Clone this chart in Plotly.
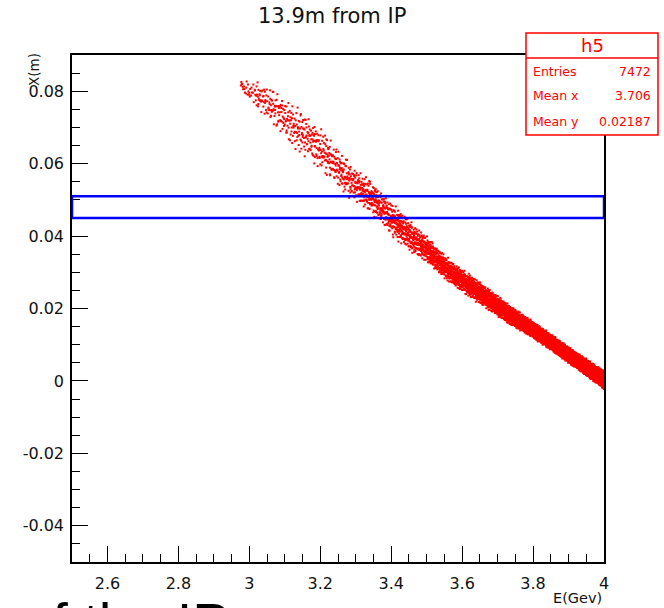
import numpy as np
import plotly.graph_objects as go

# ---------------- data ----------------
title_text = "13.9m from IP"
x_title = "E(Gev)"
y_title = "X(m)"

x_range = [2.5, 4.0]
y_range = [-0.05, 0.09]
x_tick_vals = [2.6, 2.8, 3.0, 3.2, 3.4, 3.6, 3.8, 4.0]
x_tick_text = ["2.6", "2.8", "3", "3.2", "3.4", "3.6", "3.8", "4"]
y_tick_vals = [-0.04, -0.02, 0.0, 0.02, 0.04, 0.06, 0.08]
y_tick_text = ["-0.04", "-0.02", "0", "0.02", "0.04", "0.06", "0.08"]

# ridge of the scatter band (centre and half thickness along X)
band_x = [2.975, 3.00, 3.06, 3.11, 3.17, 3.23, 3.28, 3.34, 3.40, 3.45,
          3.50, 3.57, 3.65, 3.73, 3.78, 3.83, 3.92, 4.00]
band_center = [0.0818, 0.0802, 0.0764, 0.0714, 0.0670, 0.0610, 0.0556, 0.0510, 0.0450, 0.0402,
               0.0363, 0.0298, 0.0243, 0.0185, 0.0154, 0.0121, 0.0058, 0.0003]
band_halfwidth = [0.0012, 0.0028, 0.0044, 0.0052, 0.0054, 0.0050, 0.0042, 0.0040, 0.0040, 0.0037,
                  0.0031, 0.0027, 0.0026, 0.0023, 0.0020, 0.0019, 0.0019, 0.0021]

# entries per E slice (width 0.04 GeV starting at 2.975)
slice_start = 2.975
slice_width = 0.04
slice_counts = [25, 45, 50, 55, 60, 65, 72, 80, 92, 108, 125, 145, 170,
                200, 235, 270, 310, 350, 395, 440, 490, 545, 605, 670, 745, 975]

window_y = [0.045, 0.051]          # blue selection window

stats_name = "h5"
stats_labels = ["Entries", "Mean x", "Mean y"]
stats_values = ["7472", "3.706", "0.02187"]

bottom_text = "of the IP"


# ------------- SCAT-style rendering of the binned band -------------
def halton(i, b):
    f, r = 1.0, 0.0
    while i > 0:
        f /= b
        r += f * (i % b)
        i //= b
    return r


pts_x, pts_y = [], []
idx = 1
for k, n in enumerate(slice_counts):
    x_lo = slice_start + k * slice_width
    for j in range(n):
        xx = min(x_lo + slice_width * halton(idx, 2), 3.9995)
        u = halton(idx, 3) + halton(idx, 5) - 1.0
        yc = np.interp(xx, band_x, band_center)
        hw = np.interp(xx, band_x, band_halfwidth)
        pts_x.append(xx)
        pts_y.append(yc + 1.25 * hw * u)
        idx += 1

# ---------------- figure ----------------
W, H = 664, 608
ML, MR, MT, MB = 72, 60, 55, 46
PW, PH = W - ML - MR, H - MT - MB


def fx(px):
    return (px - ML) / PW


def fy(py):
    return (H - MB - py) / PH


FONT = "DejaVu Sans"
RED = "#ff0000"

fig = go.Figure()
fig.add_trace(go.Scatter(
    x=pts_x, y=pts_y, mode="markers",
    marker=dict(symbol="square", size=2.0, color=RED, line=dict(width=0)),
    hoverinfo="skip", showlegend=False,
))

axis_common = dict(
    ticks="inside", ticklen=16, tickwidth=1.3, tickcolor="#000",
    showline=True, linecolor="#000", linewidth=1.5, mirror=True,
    showgrid=False, zeroline=False,
    tickfont=dict(family=FONT, size=16, color="#111"),
    tickmode="array",
)

fig.update_layout(
    width=W, height=H,
    margin=dict(l=ML, r=MR, t=MT, b=MB, pad=0),
    paper_bgcolor="white", plot_bgcolor="white",
    showlegend=False,
    xaxis=dict(range=x_range, tickvals=x_tick_vals, ticktext=x_tick_text,
               ticklabelstandoff=6,
               minor=dict(dtick=0.05, tick0=2.5, ticks="inside", ticklen=8,
                          tickwidth=1.3, tickcolor="#000", showgrid=False),
               **axis_common),
    yaxis=dict(range=y_range, tickvals=y_tick_vals, ticktext=y_tick_text,
               ticklabelstandoff=3,
               minor=dict(dtick=0.005, tick0=0, ticks="inside", ticklen=8,
                          tickwidth=1.3, tickcolor="#000", showgrid=False),
               **axis_common),
)

shapes = [
    # blue window
    dict(type="rect", xref="x", yref="y", x0=x_range[0], x1=x_range[1],
         y0=window_y[0], y1=window_y[1], line=dict(color="#0000ff", width=2.5),
         fillcolor="rgba(0,0,0,0)", layer="above"),
    # stats box
    dict(type="rect", xref="paper", yref="paper", x0=fx(526), x1=fx(658),
         y0=fy(135), y1=fy(33), line=dict(color=RED, width=1.5),
         fillcolor="white", layer="above"),
    dict(type="line", xref="paper", yref="paper", x0=fx(526), x1=fx(658),
         y0=fy(58), y1=fy(58), line=dict(color=RED, width=1.5), layer="above"),
]
fig.update_layout(shapes=shapes)

ann = []
ann.append(dict(text=title_text, xref="paper", yref="paper", x=fx(332), y=fy(16),
                xanchor="center", yanchor="middle", showarrow=False,
                font=dict(family=FONT, size=21, color="#111")))
ann.append(dict(text=x_title, xref="paper", yref="paper", x=fx(604), y=fy(598),
                xanchor="right", yanchor="middle", showarrow=False,
                font=dict(family=FONT, size=14.5, color="#111")))
ann.append(dict(text=y_title, xref="paper", yref="paper", x=fx(34), y=fy(70),
                xanchor="center", yanchor="middle", textangle=-90, showarrow=False,
                font=dict(family=FONT, size=13.5, color="#111")))
ann.append(dict(text=stats_name, xref="paper", yref="paper", x=fx(592), y=fy(46),
                xanchor="center", yanchor="middle", showarrow=False,
                font=dict(family=FONT, size=18, color=RED)))
for i, (lab, val) in enumerate(zip(stats_labels, stats_values)):
    yy = fy(71 + i * 25)
    ann.append(dict(text=lab, xref="paper", yref="paper", x=fx(531), y=yy,
                    xanchor="left", yanchor="middle", showarrow=False,
                    font=dict(family=FONT, size=12.5, color=RED)))
    ann.append(dict(text=val, xref="paper", yref="paper", x=fx(653), y=yy,
                    xanchor="right", yanchor="middle", showarrow=False,
                    font=dict(family=FONT, size=12.5, color=RED)))
ann.append(dict(text=bottom_text, xref="paper", yref="paper", x=fx(19), y=fy(589),
                xanchor="left", yanchor="top", showarrow=False,
                font=dict(family="Liberation Sans", size=56, color="#000")))
fig.update_layout(annotations=ann)

fig.write_html("out.html")
